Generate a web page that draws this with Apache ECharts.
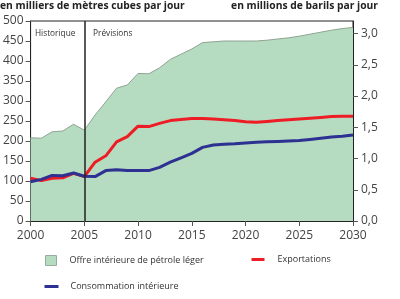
<!DOCTYPE html>
<html>
<head>
<meta charset="utf-8">
<script src="https://cdn.jsdelivr.net/npm/echarts@6/dist/echarts.min.js"></script>
<style>html,body{margin:0;padding:0;background:#fff}#c{width:400px;height:299px}</style>
</head>
<body>
<div id="c"></div>
<script>
const years = [2000,2001,2002,2003,2004,2005,2006,2007,2008,2009,2010,2011,2012,2013,2014,2015,2016,2017,2018,2019,2020,2021,2022,2023,2024,2025,2026,2027,2028,2029,2030];
const supply = [208,207,223,225,242,227,265,298,332,340,369,368,383,404,417,430,446,448,450,450,450,450,452,455,458,462,467,472,477,481,484];
const exportsV = [107,101,107,108,119,111,147,163,198,211,237,236,244,251,254,256,256,255,253,251,248,247,249,251,253,255,257,259,261,262,262];
const consumption = [98,104,114,113,120,112,111,126,128,126,126,126,134,147,158,169,184,190,192,193,195,197,198,199,200,201,204,207,210,212,215];
const rightTicks = [0,0.5,1.0,1.5,2.0,2.5,3.0];
const names = ['Offre intérieure de pétrole léger','Exportations','Consommation intérieure'];
const splitYear = 2005;
const phaseLabels = ['Historique','Prévisions'];

const font = 'Open Sans';
const pair = arr => years.map((y,i)=>[y,arr[i]]);
const chart = echarts.init(document.getElementById('c'), null, {renderer:'canvas'});
const legendText = {fontSize:9,color:'#333',fontFamily:font};
chart.setOption({
  animation:false,
  textStyle:{fontFamily:font},
  grid:{left:29,right:47,top:21,bottom:78,show:true,borderColor:'#222',borderWidth:1,backgroundColor:'#fff'},
  xAxis:{type:'value',min:2000,max:2030,interval:5,
    axisLine:{show:true,lineStyle:{color:'#222',width:1}},
    axisTick:{show:true,length:5,lineStyle:{color:'#555'}},
    axisLabel:{color:'#444',fontSize:12,margin:9,fontFamily:font,formatter:v=>String(v)},
    splitLine:{show:false}},
  yAxis:[
    {type:'value',min:0,max:500,interval:50,position:'left',
      axisLine:{show:true,lineStyle:{color:'#222',width:1}},
      axisTick:{show:true,length:5,lineStyle:{color:'#555'}},
      axisLabel:{color:'#444',fontSize:12,margin:7,fontFamily:font,formatter:v=>String(v)},
      splitLine:{show:false}},
    {type:'value',min:0,max:3.2,position:'right',
      axisLine:{show:true,lineStyle:{color:'#222',width:1}},
      axisTick:{show:true,length:5,customValues:rightTicks,lineStyle:{color:'#555'}},
      axisLabel:{color:'#444',fontSize:12,margin:8,fontFamily:font,customValues:rightTicks,
        formatter:v=>v.toFixed(1).replace('.',',')},
      splitLine:{show:false}}
  ],
  legend:[
    {data:[{name:names[0],icon:'rect',itemStyle:{color:'#b5dcc0',borderColor:'#9aaa9c',borderWidth:1}}],
      left:45,top:255,padding:0,itemWidth:11,itemHeight:10,
      textStyle:Object.assign({padding:[0,0,0,8]},legendText),selectedMode:false},
    {data:[names[1]],left:250,top:255,padding:0,itemWidth:13,itemHeight:10,
      lineStyle:{width:3},itemStyle:{opacity:0},
      textStyle:Object.assign({padding:[0,0,0,8]},legendText),selectedMode:false},
    {data:[names[2]],left:43,top:282,padding:0,itemWidth:14,itemHeight:10,
      lineStyle:{width:3},itemStyle:{opacity:0},
      textStyle:Object.assign({padding:[0,0,0,7]},legendText),selectedMode:false}
  ],
  graphic:[
    {type:'text',left:0,top:1,style:{text:'en milliers de mètres cubes par jour',font:'bold 10.3px "Open Sans"',fill:'#222'}},
    {type:'text',right:22,top:1,style:{text:'en millions de barils par jour',font:'bold 10.3px "Open Sans"',fill:'#222'}},
    {type:'text',left:35,top:30,z:10,style:{text:phaseLabels[0],font:'8.3px "Open Sans"',fill:'#333'}},
    {type:'text',left:93,top:30,z:10,style:{text:phaseLabels[1],font:'8.3px "Open Sans"',fill:'#333'}}
  ],
  series:[
    {name:names[0],type:'line',data:pair(supply),symbol:'none',silent:true,z:1,
      lineStyle:{color:'#8fa392',width:1},itemStyle:{color:'#b5dcc0'},
      areaStyle:{color:'#b5dcc0',opacity:1},
      markLine:{silent:true,symbol:'none',label:{show:false},lineStyle:{color:'#222',width:1.5,type:'solid'},
        data:[{xAxis:splitYear}]}},
    {name:names[1],type:'line',data:pair(exportsV),symbol:'none',z:3,
      lineStyle:{color:'#ee1c25',width:3},itemStyle:{color:'#ee1c25'}},
    {name:names[2],type:'line',data:pair(consumption),symbol:'none',z:3,
      lineStyle:{color:'#2e3192',width:3},itemStyle:{color:'#2e3192'}}
  ]
});
</script>
</body>
</html>
